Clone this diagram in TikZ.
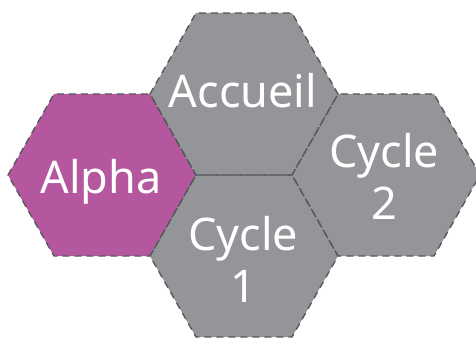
\documentclass[tikz,border=0pt]{standalone}
\usepackage{fontspec}
\setmainfont{Noto Sans}
\definecolor{hexgray}{HTML}{939598}
\definecolor{hexpurple}{HTML}{B4579F}
\definecolor{hexline}{HTML}{58595B}
\begin{document}
\begin{tikzpicture}[x=1pt,y=1pt,
  hexfill/.style={fill=#1,draw=none},
  hexborder/.style={draw=hexline,line width=1.4pt,dash pattern=on 7pt off 5pt,line join=round},
  label/.style={text=white,font=\fontsize{45}{52}\selectfont,align=center,inner sep=0pt}]
\useasboundingbox (0,0) rectangle (476,338);
% hexagon geometry: half width 94, half top edge 48, half height 81
\newcommand{\hexpath}[2]{(#1-94,#2) -- (#1-48,#2+81) -- (#1+48,#2+81) -- (#1+94,#2) -- (#1+48,#2-81) -- (#1-48,#2-81) -- cycle}
% centres (y up): Alpha (102,163), Accueil (244,244), Cycle1 (244,82), Cycle2 (386,163)
\fill[hexpurple] \hexpath{102}{163};
\fill[hexgray] \hexpath{244}{244};
\fill[hexgray] \hexpath{244}{82};
\fill[hexgray] \hexpath{386}{163};
\draw[hexborder] \hexpath{102}{163};
\draw[hexborder] \hexpath{244}{244};
\draw[hexborder] \hexpath{244}{82};
\draw[hexborder] \hexpath{386}{163};
\node[label,anchor=base] (accueil) at (243,231) {Accueil};
\node[label,anchor=base] (alpha) at (101,145) {Alpha};
\node[label] (cycle2) at (384,162) {Cycle\\2};
\node[label] (cycle1) at (243,79) {Cycle\\1};
\end{tikzpicture}
\end{document}
